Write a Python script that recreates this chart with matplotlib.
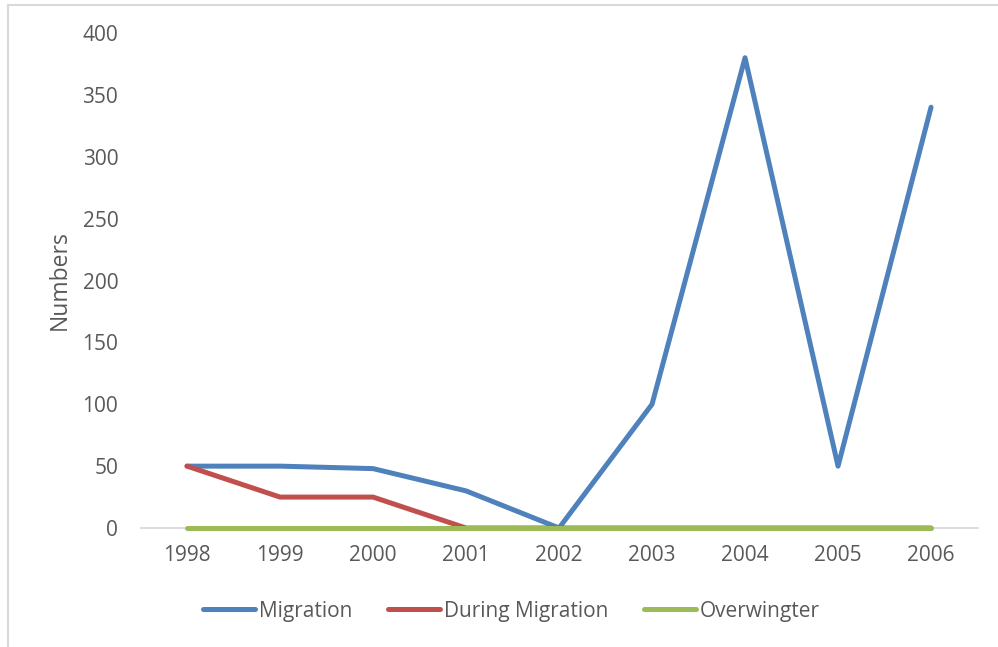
import matplotlib
matplotlib.use("Agg")
import matplotlib.pyplot as plt
from matplotlib.lines import Line2D

years = ["1998", "1999", "2000", "2001", "2002", "2003", "2004", "2005", "2006"]
migration = [50, 50, 48, 30, 0, 100, 380, 50, 340]
during_migration = [50, 25, 25, 0, 0, 0, 0, 0, 0]
overwinter = [0, 0, 0, 0, 0, 0, 0, 0, 0]
y_ticks = [0, 50, 100, 150, 200, 250, 300, 350, 400]

series = [
    ("Migration", migration, "#4F81BD"),
    ("During Migration", during_migration, "#C0504D"),
    ("Overwingter", overwinter, "#9BBB59"),
]

plt.rcParams["font.family"] = ["Open Sans", "DejaVu Sans"]
text_color = "#595959"
fs = 15

fig = plt.figure(figsize=(9.98, 6.47), dpi=100)
ax = fig.add_axes([0.1408, 0.1839, 0.8387, 0.7651])

x = list(range(len(years)))
for name, vals, col in series:
    ax.plot(x, vals, color=col, lw=3.6, solid_capstyle="round",
            solid_joinstyle="round", label=name, clip_on=False, zorder=3)

ax.set_xlim(-0.5, len(years) - 0.5)
ax.set_ylim(0, 400)
ax.set_yticks(y_ticks)
ax.set_xticks(x)
ax.set_xticklabels(years)
ax.tick_params(axis="both", length=0, labelsize=fs, colors=text_color)
ax.tick_params(axis="x", pad=12)
ax.tick_params(axis="y", pad=16)

for s in ["top", "right", "left"]:
    ax.spines[s].set_visible(False)
ax.spines["bottom"].set_color("#D9D9D9")
ax.spines["bottom"].set_linewidth(1.3)
ax.spines["bottom"].set_zorder(0)

ax.set_ylabel("Numbers", fontsize=16.5, color=text_color, labelpad=8)

handles = [Line2D([0], [0], color=c, lw=3.6, solid_capstyle="round") for _, _, c in series]
fig.legend(handles, [n for n, _, _ in series], loc="center",
           bbox_to_anchor=(511.5 / 998, 1 - 611 / 647), ncol=3, frameon=False,
           fontsize=fs, labelcolor=text_color, handlelength=2.5,
           handletextpad=0.2, columnspacing=1.7)

# chart area frame (top and left edges)
fig.add_artist(Line2D([8 / 998, 1.0], [1 - 5 / 647, 1 - 5 / 647],
                      transform=fig.transFigure, color="#D9D9D9", lw=1.5))
fig.add_artist(Line2D([8 / 998, 8 / 998], [0.0, 1 - 5 / 647],
                      transform=fig.transFigure, color="#D9D9D9", lw=1.5))

fig.savefig("out.png", dpi=100)
